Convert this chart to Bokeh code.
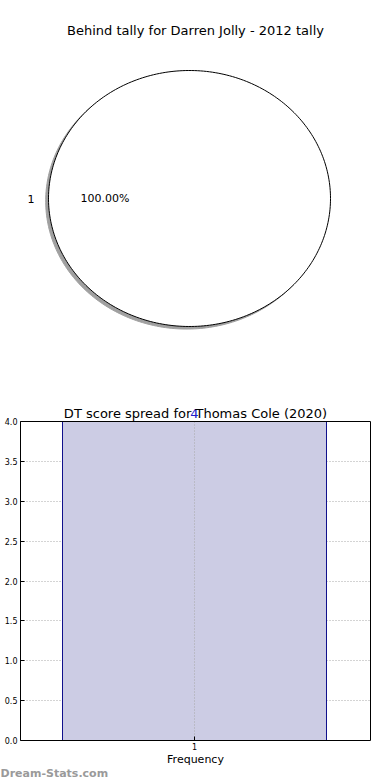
import numpy as np
from bokeh.plotting import figure
from bokeh.models import Range1d, Label, FixedTicker, ColumnDataSource, LinearAxis, Grid, Title
from bokeh.layouts import column
from bokeh.embed import file_html
from bokeh.resources import INLINE

# ---- data ----
pie_title = "Behind tally for Darren Jolly - 2012 tally"
pie_labels = ["1"]
pie_values = [1]

bar_title = "DT score spread for Thomas Cole (2020)"
bar_categories = ["1"]
bar_values = [4]
y_ticks = [0.0, 0.5, 1.0, 1.5, 2.0, 2.5, 3.0, 3.5, 4.0]
x_label = "Frequency"
watermark = "Dream-Stats.com"

FONT = "DejaVu Sans"
W = 390

# ---- pie ----
PH = 400
cx, cy, rx, ry = 189, 198, 141, 128   # pie centre / radii in page px
FL, FR = 20, 370                      # frame left/right (aligned with bar)
pie = figure(width=W, height=PH, output_backend="svg", toolbar_location=None, tools="",
             x_range=Range1d(-(cx - FL) / rx, (FR - cx) / rx),
             y_range=Range1d(-(PH - cy) / ry, cy / ry),
             min_border_left=FL, min_border_right=W - FR, min_border_top=0, min_border_bottom=0)
pie.axis.visible = False
pie.grid.visible = False
pie.outline_line_color = None

vals = np.array(pie_values, dtype=float)
fracs = vals / vals.sum()
starts = np.concatenate([[0], np.cumsum(fracs)[:-1]]) * 2 * np.pi
ends = np.cumsum(fracs) * 2 * np.pi
sx, sy, wx, wy = [], [], [], []
for a0, a1, f in zip(starts, ends, fracs):
    t = np.linspace(a0, a1, 300)
    xs = list(np.cos(t))
    ys = list(np.sin(t))
    if f < 0.9999:
        xs = [0.0] + xs
        ys = [0.0] + ys
    wx.append(xs)
    wy.append(ys)
    sx.append([x - 0.02 for x in xs])
    sy.append([y - 0.02 for y in ys])

pie.patches(sx, sy, fill_color="#a0a0a0", line_color="#a0a0a0", line_width=1)
pie.patches(wx, wy, fill_color="white", line_color="black", line_width=1)

for lab, a0, a1, f in zip(pie_labels, starts, ends, fracs):
    mid = (a0 + a1) / 2
    lx, ly = 1.1 * np.cos(mid), 1.1 * np.sin(mid)
    pie.add_layout(Label(x=lx, y=ly, text=lab, text_font=FONT, text_font_size="11px",
                         text_align="right" if lx < 0 else "left", text_baseline="middle",
                         text_color="black"))
    px, py = 0.6 * np.cos(mid), 0.6 * np.sin(mid)
    pie.add_layout(Label(x=px, y=py, text=f"{f * 100:.2f}%", text_font=FONT,
                         text_font_size="11px", text_align="center", text_baseline="middle",
                         text_color="black"))

pie.add_layout(Label(x=(195 - cx) / rx, y=(cy - 30) / ry, text=pie_title, text_font=FONT,
                     text_font_size="13px", text_align="center", text_baseline="middle",
                     text_color="black"))

# ---- bar ----
BH = 380
FT, FB = 21, 40          # gap above value-area top, bottom border
px_per_unit = (BH - FB - FT) / y_ticks[-1]
bar_w = 0.8
ppx = 264 / bar_w        # px per x unit
x0 = 1 - (194 - FL) / ppx
xs_bar = [i + 1 for i in range(len(bar_categories))]
bar = figure(width=W, height=BH, output_backend="svg", toolbar_location=None, tools="",
             x_range=Range1d(x0, x0 + (FR - FL) / ppx),
             y_range=Range1d(0, y_ticks[-1] + FT / px_per_unit),
             min_border_left=FL, min_border_right=W - FR, min_border_top=0,
             min_border_bottom=FB)
bar.outline_line_color = None

bar.ygrid.ticker = FixedTicker(ticks=y_ticks)
bar.ygrid.grid_line_color = "#a8a8a8"
bar.ygrid.grid_line_dash = "1 2"
bar.xgrid.visible = False

src = ColumnDataSource(dict(x=xs_bar, top=bar_values))
bar.vbar(x="x", top="top", width=bar_w, bottom=0, source=src,
         fill_color="#ccccE4", line_color="#10108c", line_width=1)

# vertical grid line at category ticks, limited to the value area
bar.segment(x0=xs_bar, y0=[y_ticks[0]] * len(xs_bar), x1=xs_bar,
            y1=[y_ticks[-1]] * len(xs_bar), line_color="#a8a8a8", line_dash="1 2")

# top spine at the top of the value axis
top_spine = Grid(dimension=1, ticker=FixedTicker(ticks=[y_ticks[-1]]),
                 grid_line_color="black", grid_line_width=1, level="annotation")
bar.add_layout(top_spine)

for xv, v in zip(xs_bar, bar_values):
    bar.add_layout(Label(x=xv, y=v, text=str(v), text_font=FONT, text_font_size="13px",
                         text_color="#2020cc", text_align="center",
                         text_baseline="alphabetic", y_offset=8))

bar.add_layout(Label(x=x0 + (FR - FL) / ppx / 2, y=y_ticks[-1], text=bar_title,
                     text_font=FONT, text_font_size="13px", text_color="black",
                     text_align="center", text_baseline="alphabetic", y_offset=8))

bar.yaxis.ticker = FixedTicker(ticks=y_ticks)
bar.yaxis.bounds = (y_ticks[0], y_ticks[-1])
bar.yaxis.major_label_overrides = {t: f"{t:.1f}" for t in y_ticks}
bar.xaxis.ticker = FixedTicker(ticks=xs_bar)
bar.xaxis.major_label_overrides = {x: c for x, c in zip(xs_bar, bar_categories)}

# right spine
right_ax = LinearAxis(ticker=FixedTicker(ticks=[]), bounds=(y_ticks[0], y_ticks[-1]),
                      major_label_standoff=0, major_tick_in=0, major_tick_out=0)
bar.add_layout(right_ax, "right")

for ax in (bar.xaxis[0], bar.yaxis[0], right_ax):
    ax.major_label_text_font = FONT
    ax.minor_tick_line_color = None
    ax.axis_line_color = "black"
    ax.axis_line_width = 1
for ax in (bar.xaxis[0], bar.yaxis[0]):
    ax.major_tick_in = 4
    ax.major_tick_out = 0
    ax.major_tick_line_color = "black"
    ax.major_label_text_font_size = "8px"
    ax.major_label_text_color = "black"
    ax.major_label_standoff = 3
bar.xaxis.major_label_standoff = 2
bar.xaxis.axis_label = x_label
bar.xaxis.axis_label_text_font = FONT
bar.xaxis.axis_label_text_font_size = "11px"
bar.xaxis.axis_label_text_font_style = "normal"
bar.xaxis.axis_label_text_color = "black"
bar.xaxis.axis_label_standoff = 0

bar.add_layout(Title(text=watermark, align="left", offset=-FL, standoff=-8,
                     text_font=FONT, text_font_size="11px", text_font_style="bold",
                     text_color="#9a9a9a"), "below")

layout = column(pie, bar, spacing=0)
open("out.html", "w").write(file_html(layout, INLINE))
